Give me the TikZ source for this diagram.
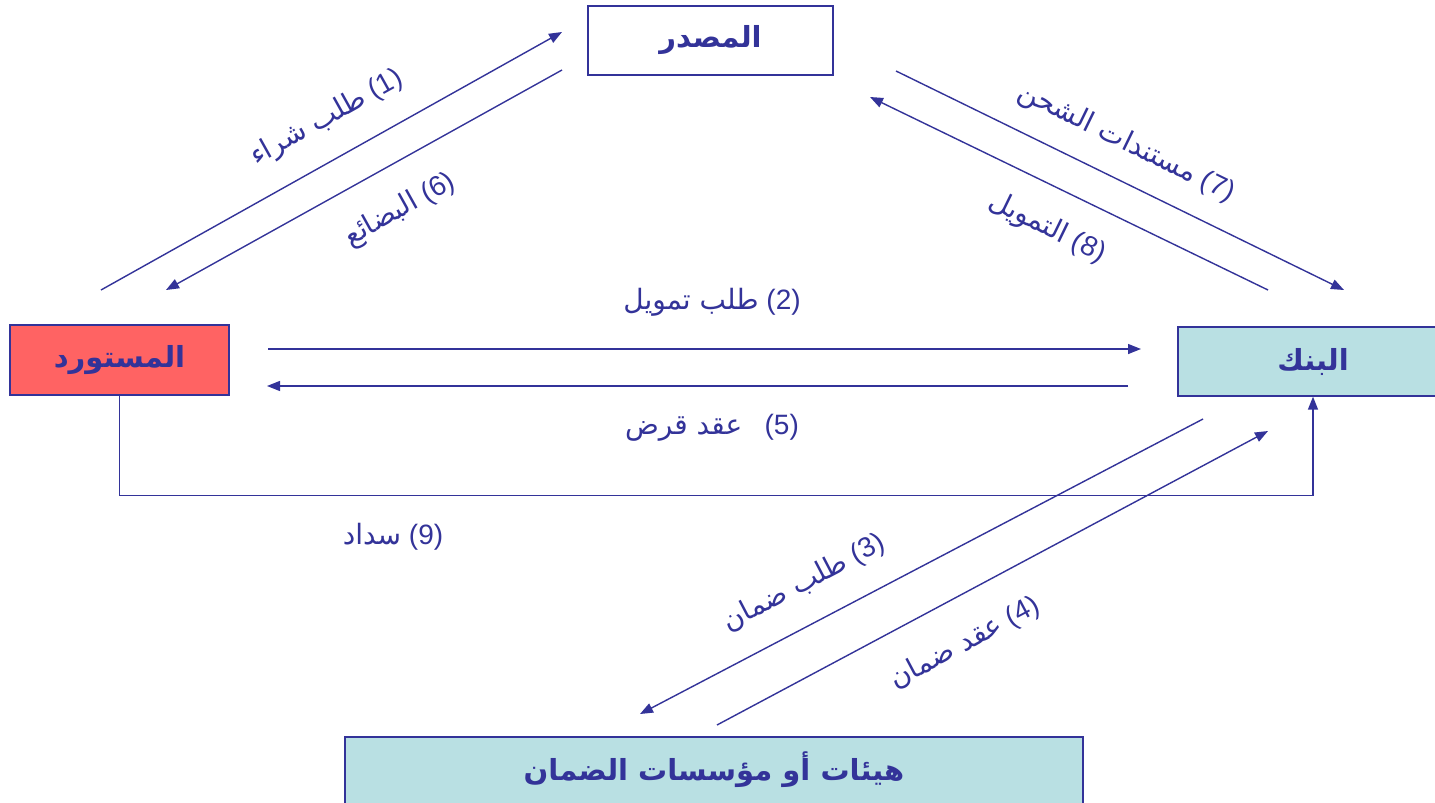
\documentclass[tikz,border=0pt]{standalone}
\usepackage{fontspec}
\setmainfont{Liberation Sans}
\newfontfamily\arabicfont[Script=Arabic]{DejaVu Sans}
\TeXXeTstate=1
\usetikzlibrary{arrows.meta}
\definecolor{navy}{RGB}{51,51,153}
\definecolor{redfill}{RGB}{255,99,99}
\definecolor{bluefill}{RGB}{185,224,227}
\tikzset{
  box/.style={draw=navy, line width=1.3pt, text=navy, inner sep=0pt, font=\fontsize{29}{34}\selectfont\arabicfont\bfseries},
  arr/.style={draw=navy, line width=1.4pt, -{Triangle[length=13pt,width=10pt]}},
  lbl/.style={text=navy, inner sep=0pt, font=\fontsize{28}{32}\selectfont}
}
\begin{document}
\begin{tikzpicture}[x=1pt,y=-1pt]
\useasboundingbox (0,0) rectangle (1435,803);
\clip (0,0) rectangle (1435,803);
\fill[white] (0,0) rectangle (1435,803);
% boxes
\node[box, fill=white, minimum width=245pt, minimum height=69pt] (src) at (710.5,40.5) {\beginR المصدر\endR};
\node[box, fill=redfill, minimum width=219pt, minimum height=70pt] (imp) at (119.5,360) {\beginR المستورد\endR};
\node[box, fill=bluefill, minimum width=270pt, minimum height=69pt] (bank) at (1313,361.5) {\beginR البنك\endR};
\node[box, fill=bluefill, minimum width=738pt, minimum height=80pt] (guar) at (714,777) {};
\node[text=navy, inner sep=0pt, font=\fontsize{29}{34}\selectfont\arabicfont\bfseries] (guart) at (714,770) {\beginR هيئات أو مؤسسات الضمان\endR};
% endpoints
\coordinate (a1s) at (101,290); \coordinate (a1e) at (562,32);
\coordinate (a6s) at (562,70);  \coordinate (a6e) at (166,290);
\coordinate (a7s) at (896,71);  \coordinate (a7e) at (1344,290);
\coordinate (a8s) at (1268,290); \coordinate (a8e) at (870,97);
\coordinate (a2s) at (268,349); \coordinate (a2e) at (1141,349);
\coordinate (a5s) at (1128,386); \coordinate (a5e) at (267,386);
\coordinate (a3s) at (1203,419); \coordinate (a3e) at (640,714);
\coordinate (a4s) at (717,725); \coordinate (a4e) at (1268,431);
% arrows
\draw[arr] (a1s) -- (a1e);
\draw[arr] (a6s) -- (a6e);
\draw[arr] (a7s) -- (a7e);
\draw[arr] (a8s) -- (a8e);
\draw[arr] (a2s) -- (a2e);
\draw[arr] (a5s) -- (a5e);
\draw[arr] (a3s) -- (a3e);
\draw[arr] (a4s) -- (a4e);
\draw[arr] (imp.south) -- ++(0,100) -| (bank.south);
% labels
\node[lbl, rotate=29.2] (l1) at (327,118) {{\arabicfont\beginR طلب شراء\endR}~(1)};
\node[lbl, rotate=29.2] (l6) at (400,210) {{\arabicfont\beginR البضائع\endR}~(6)};
\node[lbl, rotate=-26] (l7) at (1126,143) {{\arabicfont\beginR مستندات الشحن\endR}~(7)};
\node[lbl, rotate=-26] (l8) at (1047,228) {{\arabicfont\beginR التمويل\endR}~(8)};
\node[lbl] (l2) at (712,302) {{\arabicfont\beginR طلب تمويل\endR}~(2)};
\node[lbl] (l5) at (712,428) {{\arabicfont\beginR عقد قرض\endR}\hspace{0.8em}(5)};
\node[lbl] (l9) at (393,537) {{\arabicfont\beginR سداد\endR}~(9)};
\node[lbl, rotate=27.6] (l3) at (804,583) {{\arabicfont\beginR طلب ضمان\endR}~(3)};
\node[lbl, rotate=28] (l4) at (965,643) {{\arabicfont\beginR عقد ضمان\endR}~(4)};
\end{tikzpicture}
\end{document}
